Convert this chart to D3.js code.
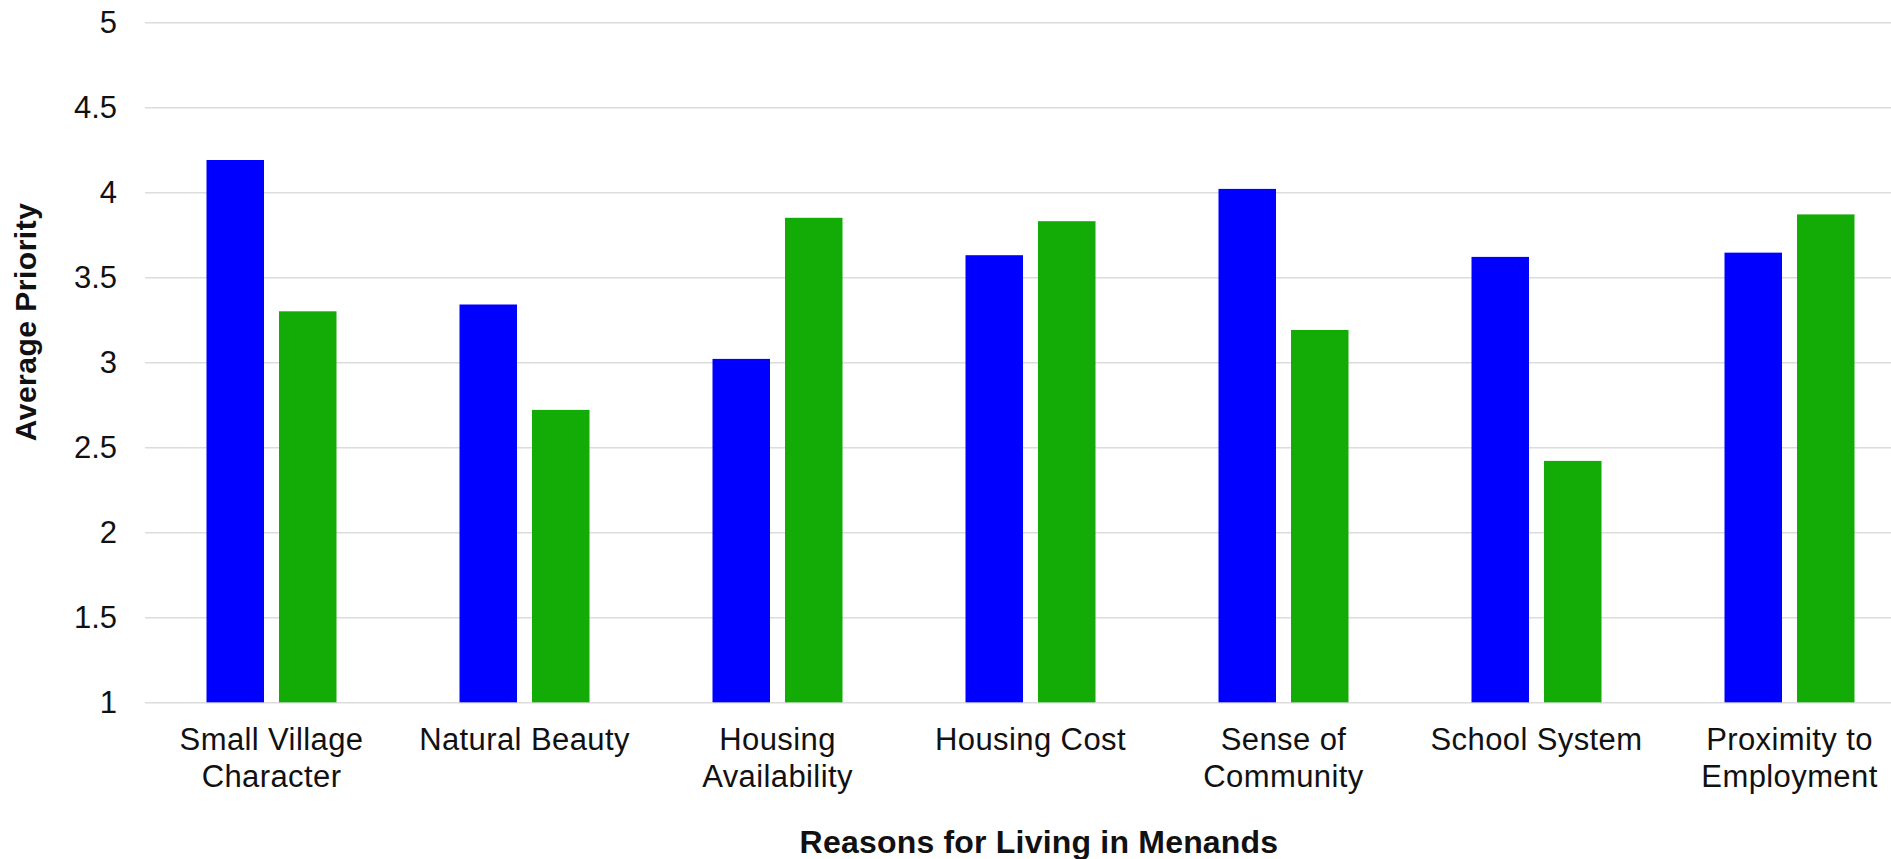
<!DOCTYPE html>
<html>
<head>
<meta charset="utf-8">
<script src="https://cdn.jsdelivr.net/npm/d3@7"></script>
<style>
  html, body { margin: 0; padding: 0; background: #fff; overflow: hidden; }
  svg { display: block; font-family: "Liberation Sans", Arial, sans-serif; }
</style>
</head>
<body>
<svg id="chart" width="1891" height="859"></svg>
<script>
const categories = ["Small Village Character", "Natural Beauty", "Housing Availability", "Housing Cost", "Sense of Community", "School System", "Proximity to Employment"];
const categoryLines = [["Small Village", "Character"], ["Natural Beauty"], ["Housing", "Availability"], ["Housing Cost"], ["Sense of", "Community"], ["School System"], ["Proximity to", "Employment"]];
const seriesKeys = ["blue", "green"];
const blueValues = [4.19, 3.34, 3.02, 3.63, 4.02, 3.62, 3.645];
const greenValues = [3.30, 2.72, 3.85, 3.83, 3.19, 2.42, 3.87];
const yTicks = [1, 1.5, 2, 2.5, 3, 3.5, 4, 4.5, 5];
const yTickLabels = ["1", "1.5", "2", "2.5", "3", "3.5", "4", "4.5", "5"];
const xTitle = "Reasons for Living in Menands";
const yTitle = "Average Priority";

(function () {
const colors = { blue: "#0000ff", green: "#13ab05" };

const svg = d3.select("#chart");
const W = 1891;
const plotLeft = 145, plotRight = 1916, plotTop = 22.3, plotBottom = 702.3;

const x0 = d3.scaleBand().domain(categories).range([plotLeft, plotRight]).paddingInner(0).paddingOuter(0);
const groupW = 130;
const x1 = d3.scaleBand().domain(seriesKeys).range([0, groupW]).paddingInner(0.2069).paddingOuter(0);
const y = d3.scaleLinear().domain([1, 5]).range([plotBottom, plotTop]);

// grid + y labels
const yAxis = d3.axisLeft(y)
  .tickValues(yTicks)
  .tickFormat((d, i) => yTickLabels[i])
  .tickSize(-(W - plotLeft))
  .tickPadding(28);
const gy = svg.append("g").attr("transform", `translate(${plotLeft},0)`).call(yAxis);
gy.select(".domain").remove();
gy.selectAll(".tick line").attr("stroke", "#dcdcdc").attr("stroke-width", 1.5);
gy.selectAll(".tick text")
  .attr("font-size", 31).attr("fill", "#111")
  .attr("font-family", "'Liberation Sans', Arial, sans-serif")
  .attr("dy", "0.34em");

// bars
const data = categories.map((c, i) => ({ cat: c, vals: [{ k: "blue", v: blueValues[i] }, { k: "green", v: greenValues[i] }] }));
const off = (x0.bandwidth() - groupW) / 2;
const groups = svg.append("g").selectAll("g").data(data).join("g")
  .attr("transform", d => `translate(${x0(d.cat) + off},0)`);
groups.selectAll("rect").data(d => d.vals).join("rect")
  .attr("x", d => x1(d.k))
  .attr("width", x1.bandwidth())
  .attr("y", d => y(d.v))
  .attr("height", d => y(1) - y(d.v))
  .attr("fill", d => colors[d.k]);

// x axis labels
const xAxis = d3.axisBottom(x0).tickSize(0).tickPadding(0).tickFormat("");
const gx = svg.append("g").attr("transform", `translate(0,${plotBottom})`).call(xAxis);
gx.select(".domain").remove();
gx.selectAll(".tick").each(function (d, i) {
  const t = d3.select(this).append("text")
    .attr("text-anchor", "middle")
    .attr("fill", "#111")
    .attr("font-size", 31)
    .attr("letter-spacing", "0.4px")
    .attr("font-family", "'Liberation Sans', Arial, sans-serif");
  categoryLines[i].forEach((ln, j) => {
    t.append("tspan").attr("x", 0).attr("y", 47.5 + j * 37).text(ln);
  });
});

// axis titles
svg.append("text")
  .attr("x", 1039).attr("y", 852.7)
  .attr("text-anchor", "middle")
  .attr("font-size", 32).attr("font-weight", "bold")
  .attr("letter-spacing", "0.2px")
  .attr("fill", "#111")
  .text(xTitle);

svg.append("text")
  .attr("transform", "translate(36,322) rotate(-90)")
  .attr("text-anchor", "middle")
  .attr("font-size", 30).attr("font-weight", "bold")
  .attr("letter-spacing", "0.5px")
  .attr("fill", "#111")
  .text(yTitle);
})();
</script>
</body>
</html>
